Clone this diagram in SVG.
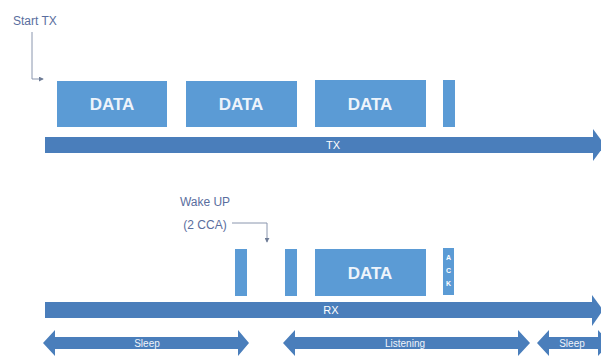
<svg xmlns="http://www.w3.org/2000/svg" width="601" height="356" viewBox="0 0 601 356">
<defs>
<style>
.box{fill:#5B9BD5;}
.bar{fill:#4A7EBB;}
.dt{font-family:"Liberation Sans",Arial,sans-serif;font-weight:bold;font-size:17px;fill:#EEF4FB;text-anchor:middle;}
.lbl{font-family:"Liberation Sans",Arial,sans-serif;font-size:12px;fill:#5A6E9E;}
.wl{font-family:"Liberation Sans",Arial,sans-serif;font-size:11px;fill:#FFFFFF;text-anchor:middle;}
.sl{font-family:"Liberation Sans",Arial,sans-serif;font-size:10px;fill:#F0F4FA;text-anchor:middle;}
.ack{font-family:"Liberation Sans",Arial,sans-serif;font-weight:bold;font-size:7px;fill:#FFFFFF;text-anchor:middle;}
.ln{fill:none;stroke:#8A96AE;stroke-width:1;}
</style>
<marker id="ah" viewBox="0 0 6 6" refX="5" refY="3" markerWidth="5" markerHeight="5" orient="auto">
<path d="M0,0 L6,3 L0,6 z" fill="#6E7C96"/>
</marker>
</defs>
<rect width="601" height="356" fill="#FFFFFF"/>

<g id="connectors">
<path class="ln" d="M32,32 V79 H43" marker-end="url(#ah)"/>
<path class="ln" d="M232,223 H267 V242" marker-end="url(#ah)"/>
</g>

<g id="start-tx"><text class="lbl" x="13" y="25">Start TX</text></g>

<g id="tx-axis">
<rect class="bar" x="45" y="137" width="549" height="16"/>
<polygon class="bar" points="593,129 605,145 593,161"/>
<text class="wl" x="333" y="149">TX</text>
</g>

<g id="tx-data1"><rect class="box" x="57" y="81" width="110" height="46"/><text class="dt" x="112" y="110">DATA</text></g>
<g id="tx-data2"><rect class="box" x="186" y="81" width="111" height="46"/><text class="dt" x="241" y="110">DATA</text></g>
<g id="tx-data3"><rect class="box" x="315" y="80" width="111" height="47"/><text class="dt" x="370" y="110">DATA</text></g>
<g id="tx-bar"><rect class="box" x="443" y="80" width="12" height="47"/></g>

<g id="wake-up">
<text class="lbl" x="205" y="206" text-anchor="middle">Wake UP</text>
<text class="lbl" x="205" y="229" text-anchor="middle">(2 CCA)</text>
</g>

<g id="cca1"><rect class="box" x="235" y="249" width="12" height="47"/></g>
<g id="cca2"><rect class="box" x="285" y="249" width="12" height="47"/></g>
<g id="rx-data"><rect class="box" x="315" y="249" width="111" height="47"/><text class="dt" x="370" y="279">DATA</text></g>
<g id="ack">
<rect class="box" x="443" y="248" width="11" height="47"/>
<text class="ack" x="448.5" y="260">A</text>
<text class="ack" x="448.5" y="273">C</text>
<text class="ack" x="448.5" y="286">K</text>
</g>

<g id="rx-axis">
<rect class="bar" x="45" y="302" width="548" height="16"/>
<polygon class="bar" points="592,295 603,310 592,326"/>
<text class="wl" x="331" y="314">RX</text>
</g>

<g id="sleep1">
<polygon class="bar" points="43,343 55,330 55,337 238,337 238,330 249,343 238,356 238,349 55,349 55,356"/>
<text class="sl" x="147" y="347">Sleep</text>
</g>
<g id="listening">
<polygon class="bar" points="283,343 295,330 295,337 518,337 518,330 530,343 518,356 518,349 295,349 295,356"/>
<text class="sl" x="405" y="347">Listening</text>
</g>
<g id="sleep2">
<polygon class="bar" points="537,343 549,330 549,337 598,337 598,330 610,343 598,356 598,349 549,349 549,356"/>
<text class="sl" x="572" y="347">Sleep</text>
</g>
</svg>
